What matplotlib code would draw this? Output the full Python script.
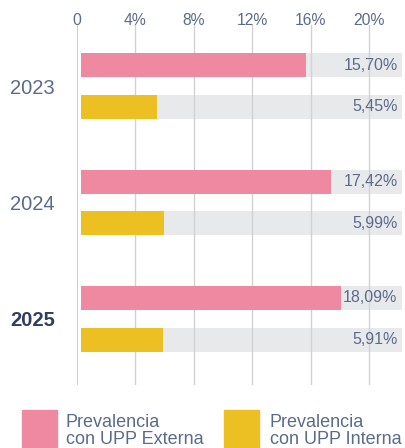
import matplotlib.pyplot as plt
from matplotlib.patches import Rectangle

# Data
years = ["2023", "2024", "2025"]
externa = [15.70, 17.42, 18.09]
interna = [5.45, 5.99, 5.91]
labels_ext = ["15,70%", "17,42%", "18,09%"]
labels_int = ["5,45%", "5,99%", "5,91%"]
ticks = [0, 4, 8, 12, 16, 20]
tick_labels = ["0", "4%", "8%", "12%", "16%", "20%"]

pink = "#ef88a1"
yellow = "#ecc022"
bg_gray = "#e8e9eb"
grid_gray = "#d2d2d4"
text_col = "#5b6b8c"
dark_col = "#2e3f60"

plt.rcParams['font.family'] = ['Liberation Sans', 'DejaVu Sans']

W, H = 406, 448
fig = plt.figure(figsize=(W / 100, H / 100), dpi=100)
ax = fig.add_axes([77 / W, 1 - 385 / H, (402 - 77) / W, 360 / H])

xmax = 22.26
offset = 0.18
bar_h = 0.206
bar_start = 0.27

for i in range(len(years)):
    for y, val, lab, col in [(i - offset, externa[i], labels_ext[i], pink),
                             (i + offset, interna[i], labels_int[i], yellow)]:
        ax.barh(y, xmax - bar_start, left=bar_start, height=bar_h, color=bg_gray, zorder=1)
        ax.barh(y, val - bar_start, left=bar_start, height=bar_h, color=col, zorder=3)
        ax.text(xmax - 0.3, y, lab, ha="right", va="center", fontsize=11.5,
                color=text_col, zorder=4)

for t in ticks[1:]:
    ax.axvline(t, color=grid_gray, lw=1, zorder=2)
ax.axvline(0, color="#c4c4c6", lw=1.2, zorder=2)

ax.set_xlim(0, xmax)
ax.set_ylim(2.567, -0.524)
ax.xaxis.tick_top()
ax.set_xticks(ticks)
ax.set_xticklabels(tick_labels, fontsize=11.3, color=text_col)
ax.tick_params(axis="x", length=0, pad=-2)
ax.set_yticks(range(len(years)))
ax.set_yticklabels(years, fontsize=14.5, color=text_col)
ax.get_yticklabels()[-1].set_fontweight("bold")
ax.get_yticklabels()[-1].set_color(dark_col)
ax.tick_params(axis="y", length=0, pad=16)
for s in ax.spines.values():
    s.set_visible(False)

# Legend
for x0, col, txt, tx in [(22, pink, "Prevalencia\ncon UPP Externa", 66),
                          (224, yellow, "Prevalencia\ncon UPP Interna", 270)]:
    fig.add_artist(Rectangle((x0 / W, 1 - 447 / H), 35 / W, 37 / H,
                             transform=fig.transFigure, color=col))
    fig.text(tx / W, 1 - 431 / H, txt, ha="left", va="center", fontsize=13,
             color=text_col, linespacing=1.0)

fig.savefig("out.png", dpi=100)
